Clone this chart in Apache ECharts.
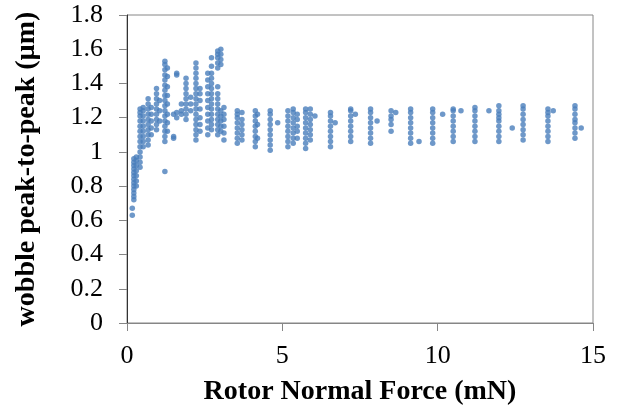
<!DOCTYPE html>
<html>
<head>
<meta charset="utf-8">
<script src="https://cdn.jsdelivr.net/npm/echarts@6/dist/echarts.min.js"></script>
<style>html,body{margin:0;padding:0;background:#fff}#c{width:620px;height:411px}</style>
</head>
<body>
<div id="c"></div>
<script>
// Rotor normal force (mN) for each measurement column
const forceColumns = [0.17,0.22,0.30,0.42,0.52,0.68,0.78,0.95,1.05,1.22,1.30,1.50,1.60,1.75,1.90,2.05,2.22,2.35,2.60,2.72,2.92,3.02,3.12,3.55,3.70,4.13,4.20,4.61,4.85,5.18,5.35,5.48,5.75,5.90,6.05,6.55,6.70,7.20,7.35,7.84,8.05,8.50,8.65,9.13,9.40,9.84,10.16,10.50,10.75,11.20,11.65,11.97,12.40,12.75,13.55,13.72,14.42,14.62];
// Wobble peak-to-peak (µm) values measured at each force column
const wobbleValues = [
 [0.63,0.67],
 [0.72,0.74,0.76,0.78,0.80,0.82,0.84,0.86,0.88,0.90,0.92,0.94,0.96],
 [0.80,0.83,0.86,0.89,0.92,0.95,0.97],
 [0.91,0.94,0.97,1.00,1.03,1.06,1.09,1.12,1.15,1.18,1.21,1.23,1.25],
 [1.03,1.06,1.09,1.12,1.15,1.18,1.21,1.24,1.26],
 [1.04,1.07,1.10,1.13,1.16,1.19,1.22,1.25,1.28,1.31],
 [1.10,1.14,1.18,1.22,1.26],
 [1.13,1.16,1.19,1.22,1.25,1.28,1.31,1.34,1.37],
 [1.18,1.24,1.30],
 [0.885,1.06,1.09,1.12,1.15,1.18,1.21,1.24,1.27,1.30,1.33,1.36,1.39,1.42,1.45,1.48,1.51,1.53],
 [1.12,1.17,1.22,1.28,1.33,1.38,1.44,1.49],
 [1.08,1.09,1.22],
 [1.20,1.23,1.45,1.46],
 [1.22,1.24,1.28],
 [1.19,1.22,1.25,1.28,1.31,1.34,1.37,1.40,1.43],
 [1.24,1.28,1.32],
 [1.07,1.10,1.13,1.16,1.19,1.22,1.25,1.28,1.31,1.34,1.37,1.40,1.43,1.46,1.49,1.52],
 [1.12,1.16,1.20,1.25,1.30,1.34,1.37],
 [1.10,1.14,1.18,1.22,1.26,1.30,1.34,1.38,1.42,1.46],
 [1.13,1.16,1.19,1.22,1.25,1.28,1.31,1.34,1.37,1.40,1.43,1.46,1.50,1.55],
 [1.10,1.13,1.16,1.19,1.22,1.25,1.28,1.31,1.34,1.38,1.49,1.52,1.55,1.57,1.59],
 [1.12,1.15,1.18,1.21,1.24,1.51,1.54,1.57,1.60],
 [1.07,1.11,1.15,1.19,1.22,1.26],
 [1.05,1.08,1.11,1.14,1.17,1.20,1.22,1.24],
 [1.07,1.10,1.13,1.16,1.19,1.23],
 [1.03,1.06,1.09,1.12,1.15,1.18,1.21,1.24],
 [1.08,1.16,1.22],
 [1.01,1.04,1.07,1.10,1.13,1.16,1.19,1.22,1.24],
 [1.17],
 [1.03,1.06,1.09,1.12,1.15,1.18,1.21,1.24],
 [1.05,1.08,1.11,1.14,1.17,1.20,1.23,1.25],
 [1.08,1.12,1.15,1.19,1.22],
 [1.02,1.05,1.08,1.11,1.14,1.17,1.20,1.23,1.25],
 [1.07,1.10,1.13,1.16,1.19,1.22,1.25],
 [1.21],
 [1.03,1.06,1.09,1.12,1.15,1.18,1.21,1.23],
 [1.17],
 [1.06,1.09,1.12,1.15,1.18,1.21,1.24,1.25],
 [1.22],
 [1.05,1.08,1.11,1.14,1.17,1.20,1.23,1.25],
 [1.18],
 [1.12,1.16,1.19,1.21,1.24],
 [1.23],
 [1.05,1.08,1.11,1.14,1.17,1.20,1.23,1.25],
 [1.06],
 [1.05,1.08,1.11,1.14,1.17,1.20,1.23,1.25],
 [1.22],
 [1.06,1.09,1.12,1.15,1.18,1.21,1.24,1.25],
 [1.24],
 [1.06,1.09,1.12,1.15,1.18,1.21,1.24,1.26],
 [1.24],
 [1.06,1.09,1.12,1.15,1.18,1.20,1.22,1.24,1.27],
 [1.14],
 [1.07,1.10,1.13,1.16,1.19,1.22,1.25,1.27],
 [1.06,1.09,1.12,1.15,1.18,1.21,1.23,1.25],
 [1.24],
 [1.08,1.11,1.14,1.17,1.19,1.22,1.25,1.27],
 [1.14]
];
const xTitle = 'Rotor Normal Force (mN)';
const yTitle = 'wobble peak-to-peak (µm)';

const points = [];
forceColumns.forEach((x, i) => wobbleValues[i].forEach(y => points.push([x, y])));

const serif = '"Liberation Serif","Times New Roman",serif';
const chart = echarts.init(document.getElementById('c'), null, {renderer: 'canvas'});
chart.setOption({
  animation: false,
  backgroundColor: '#fff',
  grid: {left: 127, right: 27, top: 15, bottom: 85, show: true, borderColor: '#868686', borderWidth: 1},
  xAxis: {
    type: 'value', min: 0, max: 15, interval: 5,
    name: xTitle, nameLocation: 'middle', nameGap: 55,
    nameTextStyle: {fontFamily: serif, fontWeight: 'bold', fontSize: 28, color: '#000'},
    axisLine: {show: true, onZero: false, lineStyle: {color: '#868686', width: 1}},
    axisTick: {show: true, inside: false, length: 8, lineStyle: {color: '#868686'}},
    axisLabel: {fontFamily: serif, fontSize: 26, color: '#000', margin: 20},
    splitLine: {show: false}
  },
  yAxis: {
    type: 'value', min: 0, max: 1.8, interval: 0.2,
    name: yTitle, nameLocation: 'middle', nameGap: 86, nameRotate: 90,
    nameTextStyle: {fontFamily: serif, fontWeight: 'bold', fontSize: 28, color: '#000'},
    axisLine: {show: true, onZero: false, lineStyle: {color: '#333', width: 1}},
    axisTick: {show: true, inside: false, length: 8, lineStyle: {color: '#868686'}},
    axisLabel: {fontFamily: serif, fontSize: 26, color: '#000', margin: 24,
      formatter: v => String(Math.round(v * 10) / 10)},
    splitLine: {show: false}
  },
  series: [{
    type: 'scatter',
    data: points,
    symbol: 'circle',
    symbolSize: 5.5,
    itemStyle: {color: '#4A7EBB'}
  }]
});
</script>
</body>
</html>
